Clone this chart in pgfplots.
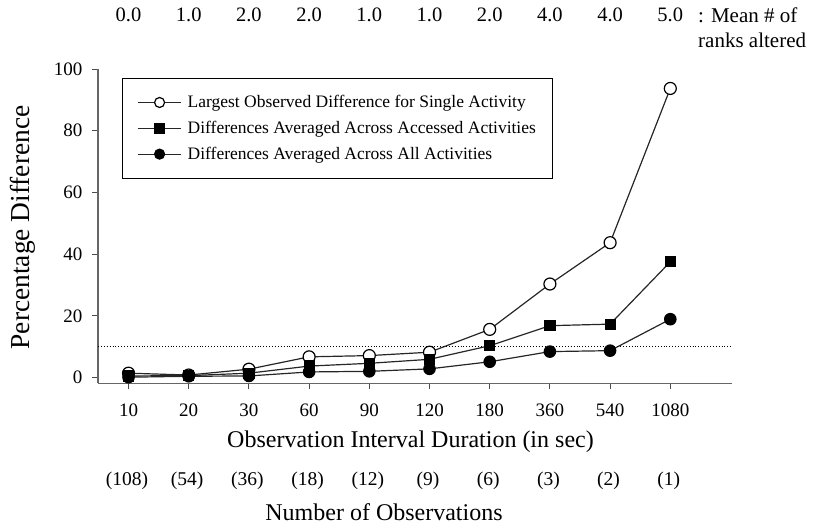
\documentclass[border=0pt]{standalone}
\usepackage{pgfplots}
\pgfplotsset{compat=1.18}
\usepackage{fontspec}
\setmainfont{Liberation Serif}
\pgfplotstableread{
x open square filled
0 1.4 0.5 0.1
1 0.8 0.6 0.4
2 2.7 1.4 0.5
3 6.7 3.7 1.8
4 7.1 4.6 2.0
5 8.2 5.9 2.8
6 15.6 10.3 5.1
7 30.3 16.8 8.4
8 43.7 17.3 8.7
9 93.7 37.5 18.9
}\datatable
\begin{document}
\begin{tikzpicture}[x=1pt,y=1pt]
\path[use as bounding box] (0,0) rectangle (817,-525);
\begin{axis}[
  at={(98pt,-383.3pt)}, anchor=south west,
  scale only axis, width=634pt, height=314.3pt,
  xmin=-0.507, xmax=10.025, ymin=-1.88, ymax=100,
  axis x line*=bottom, axis y line*=left,
  axis line style={draw=black!60, line width=1.4pt, -},
  xtick={0,...,9},
  xticklabels={10,20,30,60,90,120,180,360,540,1080},
  ytick={0,20,40,60,80,100},
  tick align=outside, major tick length=6pt,
  tick style={draw=black!70, line width=1pt},
  /pgf/number format/assume math mode=true,
  ticklabel style={font=\fontsize{19}{22}\selectfont},
  xticklabel style={yshift=-11pt},
  yticklabel style={xshift=-6pt},
  legend style={at={(0.0379,0.971)}, anchor=north west, draw=black, line width=0.9pt,
    font=\fontsize{17.5}{20}\selectfont, row sep=8pt, column sep=4pt, inner xsep=15pt, inner ysep=15pt,
    nodes={inner sep=2pt}},
  legend cell align=left,
  legend image code/.code={\draw[mark repeat=2,mark phase=2,#1,mark size=5pt] plot coordinates {(0pt,0pt)(21.5pt,0pt)(43pt,0pt)};},
  clip=false,
]
\addplot[black!85, line width=1.2pt, mark=*, mark options={fill=white, draw=black, line width=1.2pt}, mark size=6pt] table[x=x,y=open] {\datatable};
\addlegendentry{Largest Observed Difference for Single Activity}
\addplot[black!85, line width=1.2pt, mark=square*, mark options={fill=black, draw=black}, mark size=5pt] table[x=x,y=square] {\datatable};
\addlegendentry{Differences Averaged Across Accessed Activities}
\addplot[black!85, line width=1.2pt, mark=*, mark options={fill=black, draw=black}, mark size=5.7pt] table[x=x,y=filled] {\datatable};
\addlegendentry{Differences Averaged Across All Activities}
\draw[black, dotted, line width=0.9pt] (axis cs:-0.507,10) -- (axis cs:10.025,10);
\end{axis}
\foreach \t [count=\i from 0] in {0.0,1.0,2.0,2.0,1.0,1.0,2.0,4.0,4.0,5.0} {
  \node[font=\fontsize{20.5}{24}\selectfont] at (128.5+60.2*\i,-15) {\t};
}
\foreach \t [count=\i from 0] in {(108),(54),(36),(18),(12),(9),(6),(3),(2),(1)} {
  \node[font=\fontsize{19.5}{23}\selectfont] at (127+60.2*\i,-481) {\t};
}
\node[anchor=west, font=\fontsize{21}{24}\selectfont, inner sep=0pt] at (698,-15) {: Mean \# of};
\node[anchor=west, font=\fontsize{21}{24}\selectfont, inner sep=0pt] at (698,-40) {ranks altered};
\node[font=\fontsize{24}{28}\selectfont] at (410.5,-442) {Observation Interval Duration (in sec)};
\node[font=\fontsize{24}{28}\selectfont] at (384,-512) {Number of Observations};
\node[rotate=90, font=\fontsize{27.4}{32}\selectfont] at (23,-227.5) {Percentage Difference};
\end{tikzpicture}
\end{document}
